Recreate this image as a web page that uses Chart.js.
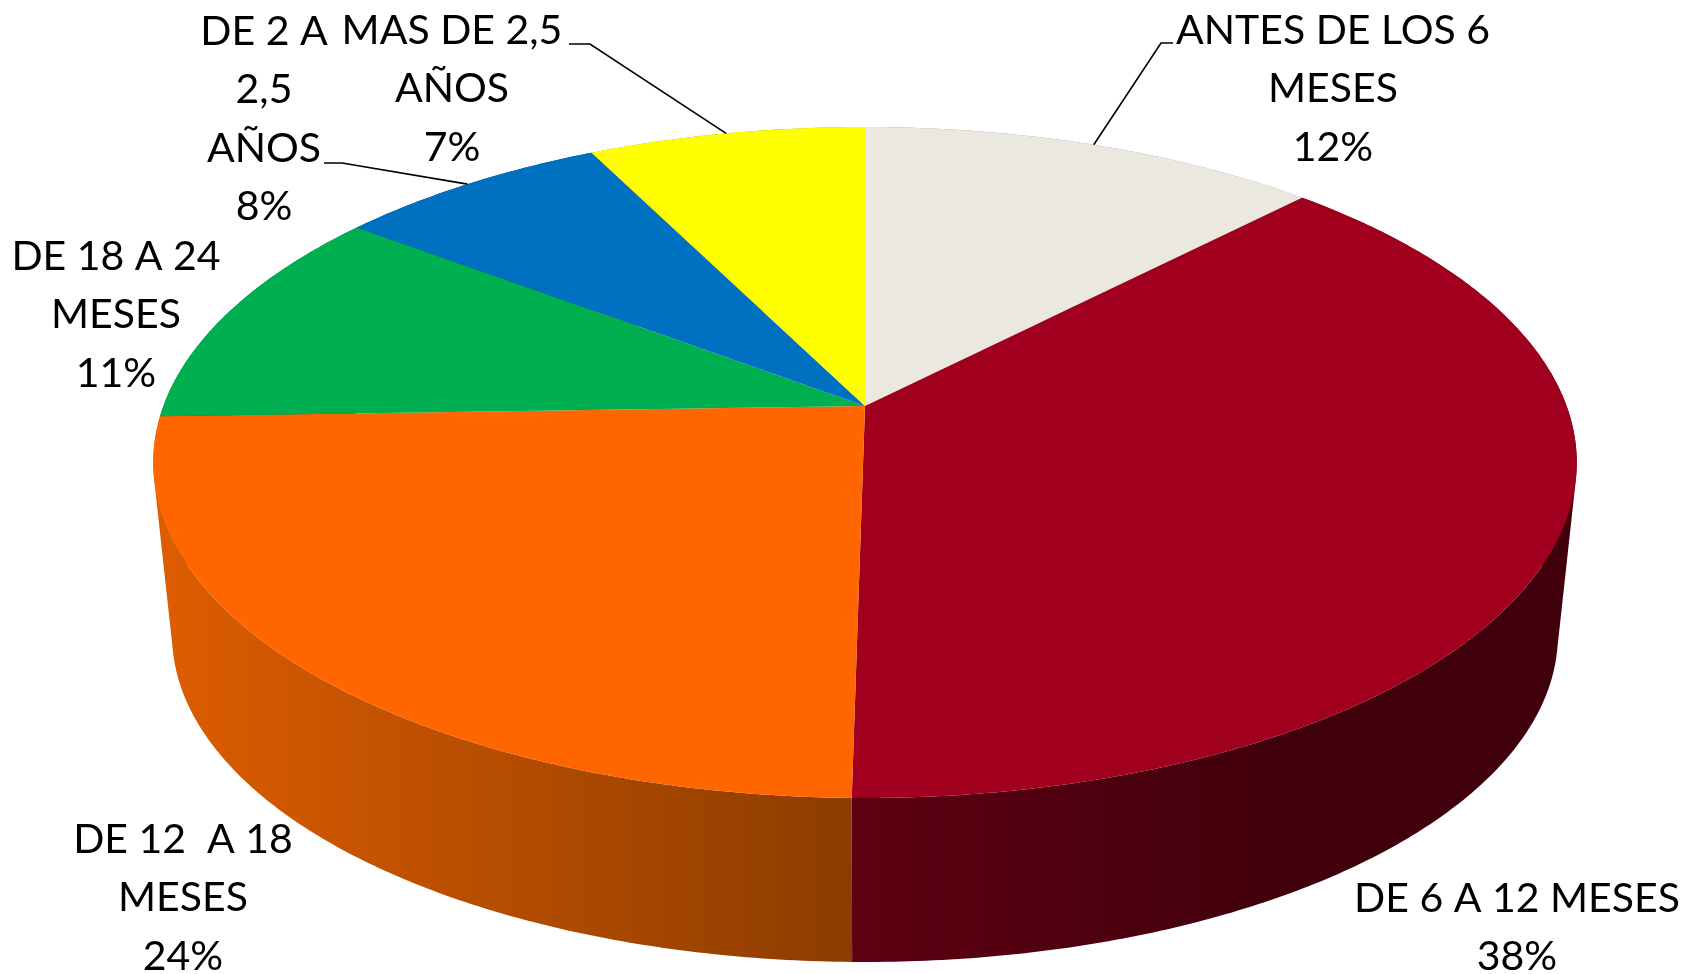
<!DOCTYPE html>
<html>
<head>
<meta charset="utf-8">
<title>Pie</title>
<script src="https://cdn.jsdelivr.net/npm/chart.js@4"></script>
<style>
  html, body { margin: 0; padding: 0; background: #fff; }
  canvas { display: block; }
</style>
</head>
<body>
<canvas id="graph" width="1684" height="974"></canvas>
<script>
// -------------------------
// DATA
// -------------------------
const categories = [
  ["ANTES DE LOS 6", "MESES"],
  ["DE 6 A 12 MESES"],
  ["DE 12  A 18", "MESES"],
  ["DE 18 A 24", "MESES"],
  ["DE 2 A", "2,5", "AÑOS"],
  ["MAS DE 2,5", "AÑOS"]
];
// slice sizes as measured on the picture, the printed labels are rounded
const shares = [12.3, 37.95, 24.25, 10.8, 7.3, 7.4];
const percentLabels = ["12%", "38%", "24%", "11%", "8%", "7%"];
const topColors = ["#EAE8DF", "#A0001E", "#FF6600", "#00AF50", "#0070C0", "#FFFF00"];
const wallLeft = ["#8F8D86", "#5E0012", "#DC5C00", "#006B31", "#004475", "#9C9C00"];
const wallRight = ["#8F8D86", "#40000C", "#8C3C00", "#006B31", "#004475", "#9C9C00"];

// -------------------------
// LABEL PLACEMENT
// -------------------------
const labelFont = "41px Lato";
const lineHeight = 58.3;
const labelX = [1333, 1517, 183, 116, 264, 452];
const firstBaseline = [44, 912, 853, 270, 45, 44];
// leader start (next to the text) and elbow, null = no leader
const leaderStart = [[1173, 43], null, null, null, [324, 163], [569, 44]];
const leaderElbow = [[1161, 43], null, null, null, [342, 163], [590, 44]];

// -------------------------
// PERSPECTIVE OF THE DISC
// -------------------------
const tilt = -0.1683;
const topFace = { x: 865, y: 406, a: 701.6, b: 326 };
const bottomFace = { x: 865, y: 580, a: 683, b: 317.7 };

function project(face, angle) {
  // angle comes from the arc element, 0 = three o'clock
  const u = Math.cos(angle);
  const v = Math.sin(angle);
  const w = 1 + tilt * v;
  return { x: face.x + face.a * u / w, y: face.y + face.b * v / w };
}

function traceRim(ctx, face, from, to) {
  const steps = Math.max(2, Math.ceil(Math.abs(to - from) / 0.01));
  for (let i = 0; i <= steps; i++) {
    const p = project(face, from + (to - from) * i / steps);
    ctx.lineTo(p.x, p.y);
  }
}

function quadArea(q) {
  let sum = 0;
  q.forEach((p, i) => {
    const n = q[(i + 1) % q.length];
    sum += p.x * n.y - n.x * p.y;
  });
  return sum;
}

// swept wall: one quad per step, all wound the same way so nonzero fill
// gives their union and the silhouette stays straight at the sides
function traceWall(ctx, from, to) {
  const steps = Math.max(2, Math.ceil(Math.abs(to - from) / 0.01));
  for (let i = 0; i < steps; i++) {
    const a1 = from + (to - from) * i / steps;
    const a2 = from + (to - from) * (i + 1) / steps;
    const q = [project(topFace, a1), project(topFace, a2),
               project(bottomFace, a2), project(bottomFace, a1)];
    if (quadArea(q) < 0) q.reverse();
    ctx.moveTo(q[0].x, q[0].y);
    ctx.lineTo(q[1].x, q[1].y);
    ctx.lineTo(q[2].x, q[2].y);
    ctx.lineTo(q[3].x, q[3].y);
    ctx.closePath();
  }
}

// -------------------------
// 3D PIE PLUGIN
// -------------------------
const pie3d = {
  id: "pie3d",
  beforeDatasetsDraw(chart) {
    const ctx = chart.ctx;
    const arcs = chart.getDatasetMeta(0).data;

    // back slices first, front walls end up on top
    const order = arcs.map((arc, i) => i).sort((p, q) =>
      Math.sin((arcs[p].startAngle + arcs[p].endAngle) / 2) -
      Math.sin((arcs[q].startAngle + arcs[q].endAngle) / 2));

    order.forEach((i) => {
      const arc = arcs[i];
      const grad = i === 1
        ? ctx.createLinearGradient(852, 0, 1300, 0)
        : ctx.createLinearGradient(172, 0, 852, 0);
      grad.addColorStop(0, wallLeft[i]);
      grad.addColorStop(1, wallRight[i]);
      ctx.fillStyle = grad;
      ctx.beginPath();
      traceWall(ctx, arc.startAngle, arc.endAngle);
      ctx.fill();
    });

    arcs.forEach((arc) => {
      ctx.fillStyle = arc.options.backgroundColor;
      ctx.beginPath();
      ctx.moveTo(topFace.x, topFace.y);
      traceRim(ctx, topFace, arc.startAngle, arc.endAngle);
      ctx.closePath();
      ctx.fill();
    });

    return false;
  },
  afterDraw(chart) {
    const ctx = chart.ctx;
    const arcs = chart.getDatasetMeta(0).data;

    ctx.strokeStyle = "#000";
    ctx.lineWidth = 1.6;
    arcs.forEach((arc, i) => {
      if (!leaderStart[i]) return;
      const end = project(topFace, (arc.startAngle + arc.endAngle) / 2);
      ctx.beginPath();
      ctx.moveTo(leaderStart[i][0], leaderStart[i][1]);
      ctx.lineTo(leaderElbow[i][0], leaderElbow[i][1]);
      ctx.lineTo(end.x, end.y);
      ctx.stroke();
    });

    ctx.fillStyle = "#000";
    ctx.font = labelFont;
    ctx.textAlign = "center";
    ctx.textBaseline = "alphabetic";
    categories.forEach((lines, i) => {
      const all = lines.concat(percentLabels[i]);
      all.forEach((txt, n) => {
        ctx.fillText(txt, labelX[i], firstBaseline[i] + n * lineHeight);
      });
    });
  }
};

// -------------------------
// INIT CHART
// -------------------------
new Chart(document.getElementById("graph").getContext("2d"), {
  type: "pie",
  data: {
    labels: categories,
    datasets: [{
      data: shares,
      backgroundColor: topColors,
      borderWidth: 0
    }]
  },
  options: {
    responsive: false,
    animation: false,
    plugins: {
      legend: { display: false },
      tooltip: { enabled: false }
    }
  },
  plugins: [pie3d]
});
</script>
</body>
</html>
